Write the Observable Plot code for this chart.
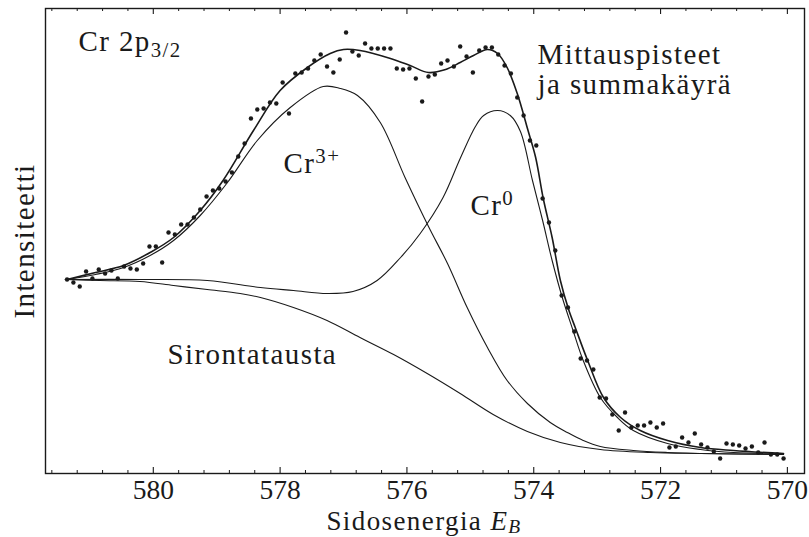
<!DOCTYPE html>
<html><head><meta charset="utf-8">
<script src="https://cdn.jsdelivr.net/npm/d3@7"></script>
<script src="https://cdn.jsdelivr.net/npm/@observablehq/plot@0.6"></script>
<style>
html,body{margin:0;padding:0;background:#fff}
#chart svg{display:block}
</style>
</head><body><div id="chart"></div>
<script>
// ---- measured points (binding energy in eV, intensity in arbitrary units) ----
const dotEnergy = [
581.36,581.26,581.16,581.06,580.96,580.86,580.76,580.66,580.56,580.46,
580.36,580.26,580.16,580.06,579.96,579.86,579.76,579.66,579.56,579.46,
579.36,579.26,579.16,579.06,578.96,578.86,578.76,578.66,578.56,578.46,
578.36,578.26,578.16,578.06,577.96,577.86,577.76,577.66,577.56,577.46,
577.36,577.26,577.16,577.06,576.96,576.86,576.76,576.66,576.56,576.46,
576.36,576.26,576.16,576.06,575.96,575.86,575.76,575.66,575.56,575.46,
575.36,575.26,575.16,575.06,574.96,574.86,574.76,574.66,574.56,574.46,
574.36,574.26,574.16,574.06,573.96,573.86,573.76,573.66,573.56,573.46,
573.36,573.26,573.16,573.06,572.96,572.86,572.76,572.66,572.56,572.46,
572.36,572.26,572.16,572.06,571.96,571.86,571.76,571.66,571.56,571.46,
571.36,571.26,571.16,571.06,570.96,570.86,570.76,570.66,570.56,570.46,
570.36,570.26,570.16,570.06];
const dotIntensity = [
194,191,187,202,195,204,200,203,195,207,
205,204,210,227,227,211,241,239,249,249,
256,264,277,283,285,292,301,317,330,355,
364,365,371,370,391,360,400,401,405,413,
419,407,401,414,441,422,418,430,425,425,
425,425,405,404,405,395,372,397,399,410,
413,407,427,417,401,423,426,426,419,408,
400,376,358,333,328,275,251,223,178,166,
142,115,113,104,76,75,59,43,61,46,
48,48,51,46,50,26,27,36,31,40,
29,26,22,15,30,29,28,25,27,21,
31,19,19,15];

// ---- fitted curves ----
const bgEnergy  = [581.39,580.84,580.21,579.68,579.15,578.63,578.31,577.79,577.26,576.74,576.21,575.68,575.16,574.64,574.10,573.58,572.95,572.16,571.37,570.06];
const bgValue   = [194,193,192,188,184,180,176,166,153,136,119,100,80,59,42,31,24,21,20,19];

const cr3Energy = [581.36,580.91,580.47,580.05,579.68,579.26,578.83,578.36,577.84,577.32,577.05,576.78,576.42,576.03,575.66,575.36,575.05,574.73,574.42,574.10,573.74,573.47,573.22,572.95,572.43,571.89,571.37,570.06];
const cr3Value  = [194,199,206,218,233,258,291,333,366,387,385,378,351,296,247,210,166,126,93,70,51,41,33,27,23,21,20,19];

const cr0Energy = [581.36,580.21,579.15,578.31,577.79,577.26,576.85,576.47,576.10,575.79,575.43,575.16,574.92,574.79,574.57,574.37,574.21,574.02,573.86,573.71,573.55,573.38,573.22,572.95,572.68,572.43,571.89,571.37,570.85,570.06];
const cr0Value  = [194,194,193,186,183,180,182,193,216,240,276,315,347,358,363,358,342,293,253,213,176,143,113,76,56,43,30,24,21,20];

const sumEnergy = [581.36,580.91,580.47,580.05,579.68,579.26,578.90,578.42,578.00,577.57,577.21,577.00,576.74,576.26,575.95,575.66,575.39,575.16,574.95,574.73,574.57,574.42,574.26,574.09,573.97,573.85,573.71,573.58,573.45,573.34,573.15,572.90,572.63,572.32,571.89,571.37,570.85,570.06];
const sumValue  = [194,201,208,221,236,263,293,343,383,406,420,424,423,415,408,401,404,411,418,424,420,406,380,343,316,275,236,193,164,145,113,76,56,43,33,26,23,20];

const majorTicks = [580,578,576,574,572,570];
const tickLabels = ["580","578","576","574","572","570"];
const minorTicks = d3.range(570, 581.61, 0.4).filter(v => Math.abs(v/2 - Math.round(v/2)) > 0.01);

// ---- build tables ----
const dots = dotEnergy.map((e,i) => ({e, v: dotIntensity[i]}));
const toRows = (E, V) => E.map((e,i) => ({e, v: V[i]}));
const bg = toRows(bgEnergy, bgValue);
const cr3 = toRows(cr3Energy, cr3Value);
const cr0 = toRows(cr0Energy, cr0Value);
const sum = toRows(sumEnergy, sumValue);
const ticks = majorTicks.map((t,i) => ({t, label: tickLabels[i]}));

const ink = "#1a1a1a";
const FONT = "Liberation Serif";
const FS = 29;
const H = 537, MT = 8, MB = 64;
const FH = H - MT - MB;

const lineOpts = {x: "e", y: "v", curve: "catmull-rom", stroke: ink, strokeWidth: 1.1};
const lab = (txt, o) => Plot.text([txt], {text: d => d, frameAnchor: "top-left", textAnchor: "start", lineAnchor: "bottom", fontSize: FS, fontFamily: FONT, fill: ink, ...o});

const svg = Plot.plot({
  width: 809, height: H,
  marginLeft: 45, marginRight: 5, marginTop: MT, marginBottom: MB,
  x: {domain: [581.7, 569.73], axis: null},
  y: {domain: [0, 465], axis: null},
  style: {fontFamily: FONT, background: "#fff", color: ink},
  marks: [
    // ticks (inward, top & bottom)
    Plot.ruleX(majorTicks, {x: d => d, insetTop: FH - 6, stroke: ink, strokeWidth: 1.1}),
    Plot.ruleX(majorTicks, {x: d => d, insetBottom: FH - 6, stroke: ink, strokeWidth: 1.1}),
    Plot.ruleX(minorTicks, {x: d => d, insetTop: FH - 3, stroke: ink, strokeWidth: 1}),
    Plot.ruleX(minorTicks, {x: d => d, insetBottom: FH - 3, stroke: ink, strokeWidth: 1}),
    Plot.frame({stroke: ink, strokeWidth: 1.4}),
    // tick labels
    Plot.text(ticks, {x: "t", text: "label", frameAnchor: "bottom", dy: 25, lineAnchor: "bottom", fontSize: 27.5, fontFamily: FONT, fill: ink}),
    // curves
    Plot.line(bg, lineOpts),
    Plot.line(cr3, lineOpts),
    Plot.line(cr0, lineOpts),
    Plot.line(sum, {...lineOpts, strokeWidth: 1.6}),
    Plot.dot(dots, {x: "e", y: "v", r: 2.2, fill: ink, stroke: null}),
    // annotations
    lab("Cr 2p3/2", {dx: 33, dy: 42}),
    lab("Mittauspisteet\nja summakäyrä", {dx: 492, dy: 85, lineHeight: 1.035}),
    lab("Cr3+", {dx: 238, dy: 164}),
    lab("Cr0", {dx: 425, dy: 206}),
    lab("Sirontatausta", {dx: 122, dy: 355}),
    lab("Sidosenergia EB", {frameAnchor: "bottom", dx: -1, dy: 56, textAnchor: "middle", fontSize: 27}),
    lab("Intensiteetti", {frameAnchor: "left", dx: -12, rotate: -90, textAnchor: "middle"})
  ]
});

const S = d3.select(svg);
function rich(match, parts) {
  S.selectAll("text").filter(function(){ return this.textContent === match; }).each(function(){
    const t = d3.select(this);
    t.text(null);
    for (const p of parts) {
      const s = t.append("tspan").text(p.t);
      if (p.italic) s.attr("font-style", "italic");
      if (p.sub) s.attr("font-size", "0.72em").attr("dy", p.dy || "0.32em");
      if (p.sup) s.attr("font-size", "0.72em").attr("dy", "-0.45em");
    }
  });
}
rich("Cr 2p3/2", [{t: "Cr 2p"}, {t: "3/2", sub: true}]);
rich("Cr3+", [{t: "Cr"}, {t: "3+", sup: true}]);
rich("Cr0", [{t: "Cr"}, {t: "0", sup: true}]);
rich("Sidosenergia EB", [{t: "Sidosenergia "}, {t: "E", italic: true}, {t: "B", italic: true, sub: true, dy: "0.2em"}]);
S.selectAll("text").filter(function(){ return !/^\d+$/.test(this.textContent); }).attr("letter-spacing", "1.4px");
document.getElementById("chart").appendChild(svg);
</script>
</body></html>
